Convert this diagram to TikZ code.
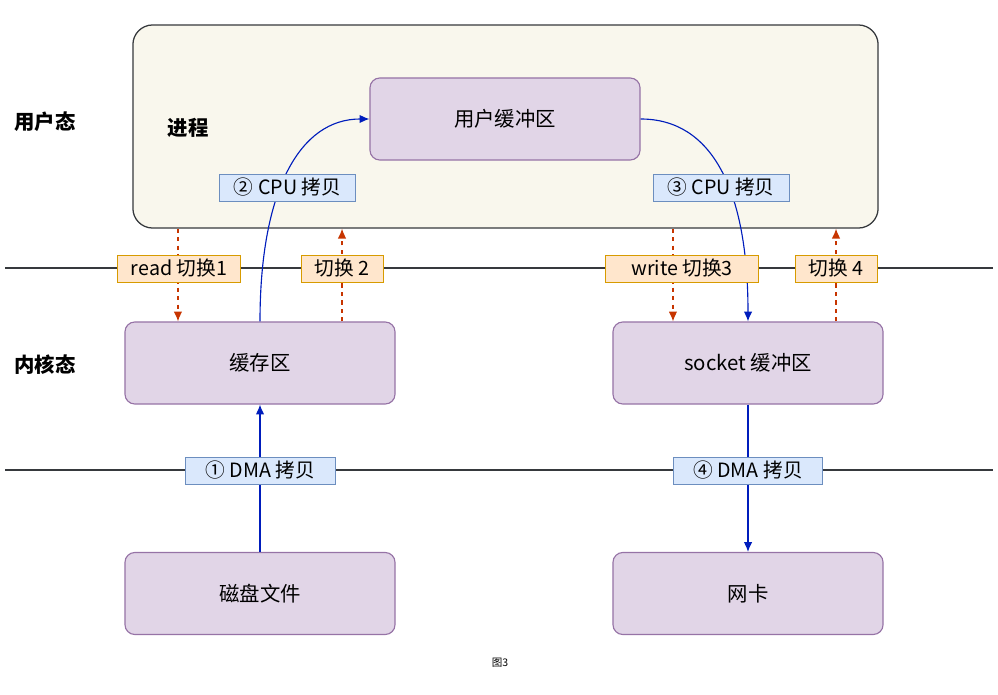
\documentclass[tikz,border=0pt]{standalone}
\usepackage{fontspec}
\setmainfont{Noto Sans CJK SC}
\usetikzlibrary{arrows.meta}
\definecolor{procfill}{HTML}{F9F7ED}
\definecolor{procline}{HTML}{36393D}
\definecolor{buffill}{HTML}{E1D5E7}
\definecolor{bufline}{HTML}{9673A6}
\definecolor{copyfill}{HTML}{DAE8FC}
\definecolor{copyline}{HTML}{6C8EBF}
\definecolor{swfill}{HTML}{FFE6CC}
\definecolor{swline}{HTML}{D79B00}
\definecolor{copyblue}{HTML}{001DBC}
\definecolor{swred}{HTML}{C73500}

\begin{document}
\begin{tikzpicture}[
    x=0.025cm, y=-0.025cm,
    buf/.style={draw=bufline, fill=buffill, line width=0.8pt, rounded corners=7pt, minimum width=6.75cm, minimum height=2.05cm, font=\fontsize{14.5}{17}\selectfont},
    copytag/.style={draw=copyline, fill=copyfill, line width=0.7pt, inner xsep=2pt, inner ysep=0pt, minimum height=0.675cm, font=\fontsize{14}{16}\selectfont},
    swtag/.style={draw=swline, fill=swfill, line width=0.7pt, inner xsep=2pt, inner ysep=0pt, minimum height=0.675cm, font=\fontsize{14}{16}\selectfont},
    layer/.style={font=\fontsize{14.5}{17}\selectfont\bfseries},
    copy/.style={-{Latex[length=7pt, width=6pt]}, draw=copyblue, line width=0.8pt},
    switch/.style={-{Latex[length=7pt, width=6pt]}, draw=swred, line width=0.8pt, dash pattern=on 3pt off 3pt},
    sep/.style={draw=procline, line width=0.8pt}
]
    \useasboundingbox (0,0) rectangle (998,695);

    % user space
    \node[draw=procline, fill=procfill, line width=0.9pt, rounded corners=14pt, minimum width=18.625cm, minimum height=5.075cm] (proc) at (505.5,126.5) {};
    \node[layer] (user) at (45,122) {用户态};
    \node[layer] (procname) at (188,128) {进程};
    \node[buf] (userbuf) at (505,119) {用户缓冲区};

    % layer borders
    \draw[sep] (5,268) -- (993,268);
    \draw[sep] (5,470) -- (993,470);

    % kernel space
    \node[layer] (kernel) at (45,365) {内核态};
    \node[buf] (cache) at (260,363) {缓存区};
    \node[buf] (socket) at (748,363) {socket 缓冲区};

    % devices
    \node[buf] (disk) at (260,593.5) {磁盘文件};
    \node[buf] (nic) at (748,593.5) {网卡};

    % copies
    \draw[copy] (disk.north) -- (cache.south);
    \draw[copy] (cache.north) .. controls (260,190) and (300,119) .. (userbuf.west);
    \draw[copy] (userbuf.east) .. controls (712,119) and (748,190) .. (socket.north);
    \draw[copy] (socket.south) -- (nic.north);

    % context switches
    \coordinate (s1) at ([xshift=-2.05cm]cache.north);
    \coordinate (s2) at ([xshift=2.05cm]cache.north);
    \coordinate (s3) at ([xshift=-1.875cm]socket.north);
    \coordinate (s4) at ([xshift=2.2cm]socket.north);
    \draw[switch] (s1 |- proc.south) -- (s1);
    \draw[switch] (s2) -- (s2 |- proc.south);
    \draw[switch] (s3 |- proc.south) -- (s3);
    \draw[switch] (s4) -- (s4 |- proc.south);

    % tags
    \node[copytag, minimum width=3.725cm] (dma1) at (260.5,470.5) {① DMA 拷贝};
    \node[copytag, minimum width=3.375cm] (cpu2) at (287.5,187.5) {② CPU 拷贝};
    \node[copytag, minimum width=3.4cm] (cpu3) at (721,187.5) {③ CPU 拷贝};
    \node[copytag, minimum width=3.7cm] (dma4) at (748,470.5) {④ DMA 拷贝};
    \node[swtag, minimum width=3.05cm] (sw1) at (179,268.5) {read 切换1};
    \node[swtag, minimum width=2.05cm] (sw2) at (342,268.5) {切换 2};
    \node[swtag, minimum width=3.8cm] (sw3) at (682,268.5) {write 切换3};
    \node[swtag, minimum width=2.05cm] (sw4) at (836,268.5) {切换 4};

    \node[font=\fontsize{7.5}{9}\selectfont] (caption) at (500,663) {图3};
\end{tikzpicture}
\end{document}
